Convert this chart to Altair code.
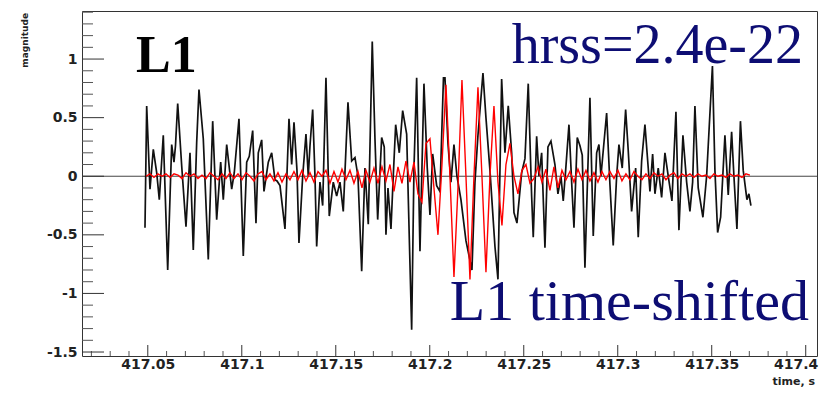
import altair as alt
import pandas as pd

# ---- black trace (L1 data): time in ms after 417 s, magnitude ----
black_ms = [48.51, 49.41, 51.17, 52.93, 54.73, 56.12, 58.24, 60.59, 62.71, 63.94,
            64.73, 65.91, 68.03, 70.32, 72.45, 74.20, 76.01, 77.23, 79.52, 82.18,
            84.52, 86.65, 88.78, 90.16, 91.97, 94.63, 96.01, 98.51, 100.80, 102.61,
            103.99, 105.80, 107.55, 108.78, 110.59, 111.81, 114.10, 115.91, 117.66, 118.73,
            120.32, 122.98, 125.11, 126.54, 127.77, 129.36, 130.42, 132.39, 134.15, 135.37,
            136.28, 137.71, 138.94, 139.84, 141.59, 143.03, 144.78, 146.54, 148.67, 150.48,
            152.23, 153.99, 156.49, 158.46, 160.21, 161.81, 163.78, 165.53, 167.29, 169.41,
            170.85, 172.29, 174.41, 175.79, 176.70, 177.77, 179.36, 180.58, 181.86, 183.78,
            185.59, 187.71, 189.47, 190.37, 191.60, 193.03, 194.79, 196.91, 198.67, 200.11,
            201.54, 203.67, 205.43, 207.29, 208.09, 209.68, 211.28, 212.87, 214.47, 216.59,
            219.25, 222.44, 224.04, 225.64, 228.30, 229.89, 232.02, 234.68, 236.28, 238.24,
            240.00, 241.75, 243.56, 244.79, 246.38, 248.88, 250.64, 252.39, 254.20, 255.05,
            256.86, 258.09, 259.52, 261.28, 262.87, 264.47, 266.59, 268.19, 269.79, 271.01,
            272.29, 274.05, 275.48, 276.71, 278.46, 279.90, 281.12, 282.55, 285.21, 286.97,
            288.78, 290.00, 291.06, 294.09, 295.85, 297.60, 299.41, 300.64, 302.39, 304.20,
            305.58, 307.39, 309.52, 310.90, 312.71, 314.47, 316.22, 317.13, 318.56, 319.79,
            321.54, 323.35, 325.11, 326.86, 328.83, 330.96, 332.55, 334.68, 336.65, 338.40,
            339.84, 341.06, 342.81, 345.31, 347.28, 350.37, 351.70, 353.14, 354.73, 357.02,
            358.78, 360.58, 361.81, 363.40, 365.27, 366.75, 368.72, 369.78, 370.85]
black_val = [-0.44, 0.60, -0.11, 0.23, 0.03, -0.20, 0.35, -0.80, 0.27, 0.12,
             0.26, 0.62, 0.09, -0.43, 0.20, -0.63, 0.29, 0.74, 0.32, -0.71,
             0.47, -0.37, 0.12, -0.20, 0.27, -0.11, 0.03, 0.49, -0.68, 0.12,
             0.17, 0.39, -0.40, 0.20, 0.31, -0.13, 0.12, 0.20, -0.03, -0.04,
             -0.08, -0.45, 0.49, 0.10, 0.46, 0.05, -0.57, 0.00, 0.36, 0.00,
             0.26, 0.57, 0.00, -0.60, -0.05, -0.25, 0.84, -0.34, -0.05, -0.17,
             -0.05, -0.30, 0.63, 0.13, 0.16, 0.00, -0.81, 0.07, -0.41, 1.15,
             0.32, -0.37, 0.33, 0.25, -0.50, -0.10, -0.45, 0.00, 0.44, 0.20,
             0.56, 0.36, -0.75, -1.31, 0.07, 0.84, -0.64, 0.79, 0.07, -0.33,
             0.19, -0.08, -0.13, 0.84, 0.84, 0.28, -0.05, 0.27, 0.00, -0.20,
             -0.55, -0.80, -0.05, 0.35, 0.88, 0.50, 0.05, -0.60, -0.88, 0.83,
             0.20, 0.60, 0.20, -0.31, -0.40, 0.03, 0.15, 0.79, -0.17, -0.52,
             0.34, 0.00, 0.20, -0.61, 0.25, 0.30, 0.10, -0.15, 0.00, -0.21,
             0.05, 0.44, -0.05, -0.44, 0.33, 0.26, 0.18, -0.78, 0.67, -0.51,
             0.20, 0.27, 0.00, 0.54, -0.07, -0.59, 0.00, 0.27, 0.07, 0.57,
             0.22, -0.30, 0.07, -0.52, 0.13, 0.44, 0.07, -0.13, 0.19, -0.15,
             0.07, -0.18, 0.20, 0.00, -0.21, 0.55, -0.46, 0.35, -0.05, -0.30,
             -0.05, 0.60, -0.10, -0.35, 0.00, 0.94, 0.05, -0.48, -0.35, 0.35,
             -0.16, 0.38, 0.00, -0.45, 0.47, 0.05, -0.20, -0.15, -0.25]

# ---- red trace (injected waveform), uniformly sampled ----
red_t0_ms = 49.04
red_dt_ms = 2.1277
red_val = [0.00, 0.02, -0.01, 0.02, 0.00, 0.02, -0.01, 0.02, 0.01, -0.02,
           0.03, 0.00, 0.02, -0.02, 0.01, -0.02, 0.03, 0.00, -0.03, 0.02,
           -0.02, 0.03, -0.02, 0.02, -0.03, 0.03, 0.00, -0.04, 0.02, 0.04,
           -0.03, 0.02, -0.04, 0.03, -0.05, 0.02, -0.03, 0.04, -0.03, 0.05,
           -0.04, 0.03, -0.05, 0.04, 0.00, 0.05, -0.06, 0.04, -0.05, 0.06,
           -0.03, 0.05, -0.06, 0.04, -0.10, 0.05, -0.05, 0.07, -0.06, 0.08,
           -0.04, 0.10, -0.13, 0.08, -0.06, 0.13, -0.05, 0.12, -0.15, -0.22,
           0.28, 0.32, -0.10, -0.50, 0.10, 0.78, 0.00, -0.86, -0.10, 0.82,
           0.00, -0.88, 0.00, 0.76, 0.00, -0.82, 0.00, 0.60, -0.05, -0.42,
           0.10, 0.28, 0.00, -0.15, 0.05, 0.10, -0.06, -0.02, 0.08, -0.05,
           0.06, -0.12, 0.08, -0.10, 0.05, -0.03, 0.04, -0.05, 0.06, -0.03,
           0.05, -0.04, 0.03, -0.05, 0.04, -0.03, 0.04, -0.02, 0.05, -0.04,
           0.02, -0.03, 0.04, 0.00, -0.03, 0.02, -0.02, 0.03, 0.00, 0.02,
           -0.03, 0.01, 0.03, -0.02, 0.02, 0.00, 0.02, -0.01, 0.02, 0.00,
           0.01, -0.02, 0.02, 0.00, 0.01, -0.01, 0.02, 0.00, 0.01, -0.01,
           0.02, 0.01]

# ---- axes ----
x_major = [417.05, 417.1, 417.15, 417.2, 417.25, 417.3, 417.35, 417.4]
x_minor = [417.02, 417.03, 417.04, 417.06, 417.07, 417.08, 417.09,
           417.11, 417.12, 417.13, 417.14, 417.16, 417.17, 417.18, 417.19,
           417.21, 417.22, 417.23, 417.24, 417.26, 417.27, 417.28, 417.29,
           417.31, 417.32, 417.33, 417.34, 417.36, 417.37, 417.38, 417.39]
y_major = [-1.5, -1, -0.5, 0, 0.5, 1]
y_minor = [-1.4, -1.3, -1.2, -1.1, -0.9, -0.8, -0.7, -0.6, -0.4, -0.3, -0.2, -0.1,
           0.1, 0.2, 0.3, 0.4, 0.6, 0.7, 0.8, 0.9, 1.1, 1.2, 1.3, 1.4]
x_domain = [417.015, 417.406]
y_domain = [-1.534, 1.41]

W, H = 735, 345
PAD_TOP = 3

black = pd.DataFrame({"t": [417 + m / 1000 for m in black_ms], "v": black_val})
red = pd.DataFrame({"t": [417 + (red_t0_ms + i * red_dt_ms) / 1000 for i in range(len(red_val))],
                    "v": red_val})

xs = alt.Scale(domain=x_domain, nice=False, zero=False)
ys = alt.Scale(domain=y_domain, nice=False, zero=False)

LABEL_FONT = "DejaVu Sans"
x_axis = alt.Axis(values=x_major, ticks=False, domain=False, grid=False, title=None,
                  labelExpr="'' + datum.value", labelFont=LABEL_FONT,
                  labelFontWeight="bold", labelFontSize=14, labelColor="#222222",
                  labelPadding=1, labelFlush=15, labelFlushOffset=12, labelOverlap=False)
y_axis = alt.Axis(values=y_major, ticks=False, domain=False, grid=False, title=None,
                  labelExpr="'' + datum.value", labelFont=LABEL_FONT,
                  labelFontWeight="bold", labelFontSize=14, labelColor="#222222",
                  labelPadding=5, labelOverlap=False)


def X(field="t"):
    return alt.X(f"{field}:Q", scale=xs, axis=x_axis)


def Y(field="v"):
    return alt.Y(f"{field}:Q", scale=ys, axis=y_axis)


black_line = alt.Chart(black).mark_line(color="#111111", strokeWidth=1.7).encode(x=X(), y=Y())
red_line = alt.Chart(red).mark_line(color="#ff0000", strokeWidth=1.4).encode(x=X(), y=Y())
zero_line = alt.Chart(pd.DataFrame({"v": [0]})).mark_rule(color="#444444", strokeWidth=1).encode(
    y=Y(), x=alt.value(0), x2=alt.value(W))

xmaj_ticks = alt.Chart(pd.DataFrame({"t": x_major})).mark_rule(color="#333333").encode(
    x=X(), y=alt.value(H), y2=alt.value(H - 11))
xmin_ticks = alt.Chart(pd.DataFrame({"t": x_minor})).mark_rule(color="#555555").encode(
    x=X(), y=alt.value(H), y2=alt.value(H - 5))
ymaj_ticks = alt.Chart(pd.DataFrame({"v": y_major})).mark_rule(color="#333333").encode(
    y=Y(), x=alt.value(0), x2=alt.value(22))
ymin_ticks = alt.Chart(pd.DataFrame({"v": y_minor})).mark_rule(color="#555555").encode(
    y=Y(), x=alt.value(0), x2=alt.value(11))

navy = "#0d0d73"
txt_l1 = alt.Chart(pd.DataFrame({"s": ["L1"]})).mark_text(
    font="Liberation Serif", fontWeight="bold", fontSize=52, color="black",
    align="left", baseline="alphabetic").encode(text="s:N", x=alt.value(54), y=alt.value(61))
txt_hrss = alt.Chart(pd.DataFrame({"s": ["hrss=2.4e-22"]})).mark_text(
    font="Liberation Serif", fontSize=56, color=navy,
    align="right", baseline="alphabetic").encode(text="s:N", x=alt.value(721), y=alt.value(52))
txt_shift = alt.Chart(pd.DataFrame({"s": ["L1 time-shifted"]})).mark_text(
    font="Liberation Serif", fontSize=58, color=navy,
    align="right", baseline="alphabetic").encode(text="s:N", x=alt.value(727), y=alt.value(309))
txt_ytitle = alt.Chart(pd.DataFrame({"s": ["magnitude"]})).mark_text(
    font=LABEL_FONT, fontWeight="bold", fontSize=9, color="#222222",
    angle=270, align="right", baseline="middle").encode(text="s:N", x=alt.value(-57), y=alt.value(2))
txt_xtitle = alt.Chart(pd.DataFrame({"s": ["time, s"]})).mark_text(
    font=LABEL_FONT, fontWeight="bold", fontSize=11, color="#222222",
    align="right", baseline="bottom").encode(text="s:N", x=alt.value(733), y=alt.value(376))

chart = alt.layer(
    zero_line, black_line, red_line,
    xmaj_ticks, xmin_ticks, ymaj_ticks, ymin_ticks,
    txt_l1, txt_hrss, txt_shift, txt_ytitle, txt_xtitle,
).properties(
    width=W, height=H,
    padding={"left": 74, "top": PAD_TOP, "right": 6, "bottom": 379 - PAD_TOP - H},
    autosize=alt.AutoSizeParams(type="none"),
    background="white",
).configure_view(stroke="#333333", strokeWidth=1)

chart.save("out.html", embed_options={"renderer": "svg", "actions": False})
